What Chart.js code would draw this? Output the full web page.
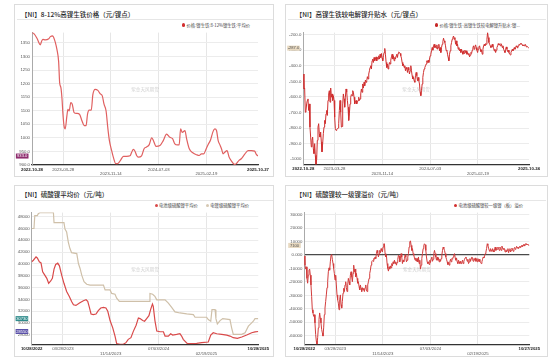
<!DOCTYPE html>
<html><head><meta charset="utf-8">
<script src="https://cdn.jsdelivr.net/npm/chart.js@4/dist/chart.umd.min.js"></script>
<style>
body{margin:0;width:550px;height:362px;position:relative;overflow:hidden;background:#fff;font-family:"Noto Sans CJK SC","Noto Sans",sans-serif}
.box{position:absolute;border:1px solid #dcdcdc;box-sizing:border-box}
.title{position:absolute;font-size:6.5px;color:#2a2a2a;line-height:1;white-space:nowrap;font-weight:500}
.sep{position:absolute;height:1px;background:#e6e6e6}
.legend{position:absolute;font-size:4.3px;color:#444;line-height:1;white-space:nowrap;display:flex;align-items:center}
.dot{display:inline-block;width:3.4px;height:3.4px;border-radius:50%;margin-right:1.2px}
.item{display:flex;align-items:center;margin-left:8px}
canvas{position:absolute}
</style></head>
<body>
<div class="box" style="left:14px;top:4px;width:260px;height:173px"></div>
<div class="box" style="left:285px;top:4px;width:263px;height:173px"></div>
<div class="box" style="left:14px;top:185px;width:260px;height:172px"></div>
<div class="box" style="left:285px;top:185px;width:263px;height:172px"></div>

<div class="title" style="left:21px;top:10.8px">【NI】8-12%高镍生铁价格（元/镍点）</div>
<div class="title" style="left:295.7px;top:10.8px">【NI】高镍生铁较电解镍升贴水（元/镍点）</div>
<div class="title" style="left:21px;top:191px">【NI】硫酸镍平均价（元/吨）</div>
<div class="title" style="left:295.7px;top:191px">【NI】硫酸镍较一级镍溢价（元/吨）</div>

<div class="sep" style="left:17px;top:19px;width:256px"></div>
<div class="sep" style="left:288px;top:19px;width:258px"></div>
<div class="sep" style="left:17px;top:200px;width:256px"></div>
<div class="sep" style="left:288px;top:200px;width:258px"></div>

<div class="legend" style="right:300px;top:22.8px"><span class="item"><span class="dot" style="background:#d32f2f"></span>价格:镍生铁:8-12%镍生铁:平均价</span></div>
<div class="legend" style="right:30px;top:22.8px"><span class="item"><span class="dot" style="background:#c62828"></span>价格:镍生铁-高镍生铁较电解镍升贴水:镍...</span></div>
<div class="legend" style="right:301px;top:203.1px"><span class="item"><span class="dot" style="background:#d94a4a"></span>电池级硫酸镍平均价</span><span class="item"><span class="dot" style="background:#d6c8b3"></span>电镀级硫酸镍平均价</span></div>
<div class="legend" style="right:27px;top:203.1px"><span class="item"><span class="dot" style="background:#d32f2f"></span>电池级硫酸镍较一级镍（板）溢价</span></div>

<canvas id="c1" width="260" height="149" style="left:14px;top:28px"></canvas>
<canvas id="c2" width="263" height="149" style="left:285px;top:28px"></canvas>
<canvas id="c3" width="260" height="149" style="left:14px;top:208px"></canvas>
<canvas id="c4" width="263" height="149" style="left:285px;top:208px"></canvas>

<script>
// ---------- DATA ----------
// Panel 1: 8-12% high nickel pig iron price (day offset from first tick, value)
const p1XTicks = ['2022-10-28','2023-03-28','2023-11-14','2024-07-03','2025-02-19','2025-10-27'];
const p1YTicks = [900,950,1000,1050,1100,1150,1200,1250,1300,1350];
const p1Days = [0,8,24,37,40,47,53,64,81,89,100,105,113,121,129,134,140,145,150,155,161,169,174,180,188,195,204,217,230,242,253,262,269,277,287,295,306,319,330,341,349,359,367,375,386,394,406,414,427,443,459,475,483,491,499,507,515,531,543,555,568,580,588,601,620,636,652,668,681,692,705,713,720,728,741,749,762,781,797,810,821,832,842,853,865,877,886,894,902,910,918,926,934,945,955,966,982,990,1003,1014,1030,1047,1063,1079,1087,1095];
const p1Vals = [1388,1385,1367,1345,1343,1357,1363,1361,1365,1373,1376,1370,1352,1325,1282,1203,1185,1148,1087,1045,1033,1081,1105,1099,1130,1124,1093,1090,1087,1063,1045,1045,1087,1102,1102,1160,1179,1175,1163,1154,1124,1099,1039,990,953,929,905,905,915,932,932,934,947,958,951,935,929,934,960,966,975,1000,990,969,972,990,1014,1002,997,978,974,974,1033,1020,1027,997,960,944,938,935,941,941,956,975,992,1023,1033,1027,990,975,960,941,947,953,929,915,902,905,917,923,939,953,953,951,939,933];

// Panel 2: premium of high nickel pig iron vs electrolytic nickel (evenly sampled)
const p2XTicks = ['2022-10-28','2023-03-28','2023-11-14','2024-07-03','2025-02-19','2025-10-24'];
const p2YTicks = [-1000,-900,-800,-700,-600,-500,-400,-300,-200];
const p2Vals = [-453,-549,-543,-698,-687,-645,-623,-613,-687,-645,-794,-858,-921,-879,-858,-932,-964,-900,-975,-1034,-1002,-879,-794,-772,-836,-858,-826,-890,-953,-900,-836,-794,-751,-772,-709,-687,-719,-623,-581,-560,-634,-543,-602,-581,-623,-592,-623,-730,-804,-815,-811,-804,-800,-772,-687,-623,-698,-794,-790,-645,-581,-613,-666,-602,-549,-570,-623,-666,-751,-709,-645,-602,-585,-592,-560,-570,-602,-645,-634,-623,-645,-634,-623,-602,-623,-613,-581,-549,-570,-517,-543,-506,-528,-492,-506,-496,-470,-485,-453,-432,-411,-400,-421,-368,-357,-379,-347,-368,-357,-343,-368,-347,-357,-336,-357,-326,-347,-321,-351,-368,-336,-315,-289,-326,-379,-411,-389,-421,-400,-379,-389,-364,-343,-326,-357,-336,-368,-347,-357,-336,-326,-347,-321,-311,-315,-321,-336,-351,-379,-400,-389,-411,-400,-432,-411,-421,-443,-411,-428,-453,-432,-400,-432,-464,-485,-475,-496,-506,-464,-443,-464,-496,-475,-496,-517,-570,-592,-560,-517,-475,-443,-421,-411,-400,-389,-368,-379,-364,-379,-357,-336,-326,-304,-283,-300,-272,-262,-283,-272,-287,-266,-294,-283,-262,-304,-283,-315,-283,-262,-245,-223,-240,-251,-272,-304,-300,-326,-347,-368,-326,-304,-272,-251,-230,-219,-209,-230,-219,-262,-240,-272,-262,-294,-283,-304,-294,-315,-294,-309,-326,-304,-321,-300,-315,-304,-326,-315,-330,-321,-343,-332,-315,-321,-300,-283,-272,-294,-279,-266,-283,-300,-315,-294,-279,-272,-294,-309,-300,-326,-294,-272,-262,-272,-258,-262,-230,-187,-219,-251,-262,-272,-283,-272,-262,-279,-287,-304,-294,-315,-300,-283,-272,-258,-266,-262,-272,-258,-266,-283,-272,-294,-304,-315,-294,-279,-294,-309,-300,-315,-326,-330,-315,-304,-294,-304,-294,-283,-294,-283,-272,-279,-287,-272,-262,-266,-258,-262,-258,-266,-272,-266,-272,-262,-266,-279,-275,-279,-283,-287];

// Panel 3: nickel sulphate average prices
const p3XTicks = ['10/28/2022','03/28/2023','11/14/2023','07/03/2024','02/19/2025','10/28/2025'];
const p3YTicks = [28000,30000,32000,34000,36000,38000,40000,42000,44000,46000,48000];
const p3BatteryDays = [0,8,21,27,37,45,53,61,73,82,92,100,108,116,126,134,145,156,169,182,193,202,214,231,250,263,271,279,287,298,311,322,334,347,359,368,379,392,403,411,427,443,456,467,480,492,505,516,524,537,546,556,567,575,584,588,596,605,621,637,645,661,672,682,701,717,725,733,753,774,798,822,854,866,878,895,919,943,959,975,995,1016,1040,1064,1080,1096];
const p3Battery = [40347,40627,41185,41018,40347,40180,38671,38224,37554,36716,37107,37554,39118,39900,40124,39677,38112,36716,35319,34481,33643,33084,32972,33363,33755,33922,33643,32637,31520,31408,31520,32078,32525,32637,32525,31967,30402,29173,27777,26492,26380,26380,26659,27218,27497,28615,29620,30849,30737,30402,30290,30737,31240,32246,33196,32804,30402,28615,28503,28503,27777,27777,28168,27944,28056,28168,27777,27218,26492,26492,26548,26659,26771,27944,28335,28168,28056,27944,27777,27497,27385,27609,27944,28335,28480,28550];
const p3PlatingDays = [0,11,15,27,32,40,105,108,156,161,169,177,185,193,218,226,234,242,253,266,282,347,355,379,387,403,411,424,569,572,585,596,605,645,661,677,693,717,750,782,790,846,854,866,872,887,891,898,911,924,959,967,975,1016,1032,1048,1059,1072,1080,1096];
const p3Plating = [46000,46000,48200,48200,48500,48700,48700,47000,47000,45900,45400,43700,42600,41900,41750,40070,39230,38100,37000,36550,36400,36400,35600,35600,35000,34870,34200,33640,33640,35000,34870,34500,33920,33920,33360,32640,31860,31690,31520,31400,30960,30960,30570,30290,32250,32250,30740,29840,30400,30740,30570,29170,28060,28060,28340,29450,29840,30290,30740,30730];

// Panel 4: battery-grade nickel sulphate premium over class-1 nickel (evenly sampled)
const p4XTicks = ['10/28/2022','03/28/2023','11/14/2023','07/03/2024','02/19/2025','10/27/2025'];
const p4YTicks = [-60000,-50000,-40000,-30000,-20000,-10000,0,10000,20000,30000];
const p4Vals = [-735,-7600,-10500,-8800,-17400,-21000,-15000,-11300,-10500,-15000,-22300,-30900,-40700,-43100,-45600,-44400,-50500,-59100,-64000,-66400,-61500,-54200,-48000,-43100,-46800,-50500,-55400,-57800,-60300,-54200,-44400,-39500,-34600,-29700,-24300,-19900,-12500,-9600,-11300,-5100,-200,200,-3200,-6400,-10000,-13700,-18600,-15000,-22300,-29700,-33300,-35800,-40700,-33300,-29700,-37000,-39500,-34600,-28400,-24800,-27200,-22300,-19900,-24300,-27200,-22300,-17400,-19900,-22300,-15000,-12500,-16200,-19900,-13700,-7600,-12500,-10500,-16200,-13700,-17400,-21000,-19900,-23500,-26000,-22300,-24800,-27200,-24300,-26000,-24800,-27200,-24300,-22300,-26000,-27200,-22300,-19900,-17400,-13700,-11300,-7600,-5100,-4200,-4700,-2700,-3200,-1500,-2700,1000,3400,1700,-1500,1000,3400,1700,4700,3400,2200,5900,8300,8300,1000,-1500,-200,-6400,-10000,-12000,-8800,-10500,-8100,-9600,-6400,-8100,-5100,-6400,-3900,-6400,-5100,-7600,-5600,-3200,-200,-700,-5100,-2700,1000,-1500,-6400,-3900,-5100,-2700,200,-1500,-5100,-3900,-1500,1000,5900,9600,10500,7100,3400,4700,1000,-200,-2200,-3900,-2200,-4700,-2700,-5100,-1500,-6400,-3900,-10500,-7600,-2700,1000,4700,7100,8300,7600,3400,-1500,-5100,-6400,-5100,-7100,-3900,-5600,-2700,-1500,-4700,-3200,1000,3400,1000,-1500,-3900,-1500,-3900,-2200,-5100,-3200,-4700,-2700,-200,3400,5900,4700,3400,1000,-1500,-3200,-5100,-7100,-5600,-7600,-5100,-3200,-5100,-2700,-3200,-1500,200,1000,-2200,-3900,-2200,-5100,-6400,-3900,-5100,-6400,-4700,-6400,-5100,-3900,-6400,-4700,-3200,-2200,-1500,-2700,-4700,-3200,-6400,-5100,-2700,-4700,-2700,-1500,-3200,-4700,-2700,-3900,-2200,-4700,-3200,-5100,-2700,-4700,-3200,-5100,-5600,-6400,-5100,-3200,-1500,-2200,-700,1000,2200,4700,8300,7100,5100,3400,2700,4700,3400,2700,4700,3400,2200,4700,5900,3400,4700,4200,5900,4700,3400,5900,4700,3400,6600,5100,4200,5100,3400,2200,3900,2200,3400,4700,1700,3400,4700,2200,3400,5100,3900,2700,4700,5600,4200,5100,6400,5100,5900,4700,5900,6600,5400,6400,7400,6100,7100,8100,6600,7600,8600,7600,8100,7600,7100,7100];
const p4YMax = 31500;

// ---------- RENDER ----------
const DAY = 86400000;
const TICKFONT = '"Liberation Sans", Arial, sans-serif';
const CJK = '"Noto Sans CJK SC", "Noto Sans", sans-serif';
function parseD(s){ let y,m,d; if (s.includes('/')) { [m,d,y] = s.split('/').map(Number); } else { [y,m,d] = s.split('-').map(Number); } return Date.UTC(y, m-1, d); }
const fmtY = v => v === 0 ? '0.000' : (Math.abs(v) >= 1000 ? String(Math.round(v)) : v.toFixed(1));

const watermark = { id: 'watermark', beforeDatasetsDraw(chart) {
  const {ctx, chartArea: a} = chart;
  ctx.save(); ctx.font = '4.6px ' + CJK; ctx.fillStyle = 'rgba(0,0,0,0.2)';
  ctx.textAlign = 'center'; ctx.textBaseline = 'middle';
  ctx.fillText('紫金天风期货', (a.left + a.right) / 2, a.top + (a.bottom - a.top) * 0.43);
  ctx.restore();
}};
const badges = { id: 'badges', afterDraw(chart, args, opts) {
  const {ctx, chartArea: a, scales: {y}} = chart;
  (opts.items || []).forEach(b => {
    const py = y.getPixelForValue(b.value);
    const w = 12.6, h = 5;
    const x1 = a.left - 3.5 - w;
    ctx.save();
    ctx.fillStyle = b.bg; ctx.fillRect(x1, py - h / 2, w, h);
    ctx.fillStyle = b.fg; ctx.font = '4.1px ' + TICKFONT;
    ctx.textAlign = 'center'; ctx.textBaseline = 'middle';
    ctx.fillText(b.text, x1 + w / 2, py + 0.2);
    ctx.restore();
  });
}};

function build(id, o) {
  const start = parseD(o.xTicks[0]);
  const tickDays = o.xTicks.map(t => (parseD(t) - start) / DAY);
  const last = tickDays.length - 1;
  const span = tickDays[last];
  const datasets = o.series.map(s => {
    const xs = s.x || s.y.map((_, i) => i * span / (s.y.length - 1));
    return {
      data: xs.map((d, i) => ({x: d, y: s.y[i]})),
      borderColor: s.color, borderWidth: s.width || 1.1, pointRadius: 0, fill: false,
      tension: s.smooth ? 0.4 : 0, cubicInterpolationMode: s.smooth ? 'monotone' : 'default'
    };
  });
  let all = []; o.series.forEach(s => all = all.concat(s.y));
  const yMin = Math.min(Math.min(...all), o.yTicks[0]);
  const yMax = o.yMax !== undefined ? o.yMax : Math.max(...all);
  const edge = i => i === 0 || i === last;
  new Chart(document.getElementById(id), {
    type: 'line',
    data: { datasets },
    plugins: [watermark, badges],
    options: {
      responsive: false, animation: false, devicePixelRatio: 1,
      layout: { padding: { top: 3, right: o.padRight, left: 0, bottom: 0 } },
      plugins: { legend: { display: false }, tooltip: { enabled: false }, badges: { items: o.badges } },
      scales: {
        x: {
          type: 'linear', min: 0, max: span,
          afterBuildTicks: s => { s.ticks = tickDays.map(v => ({ value: v })); },
          afterFit: s => { s.height = o.xHeight; },
          grid: { drawTicks: false, color: c => edge(c.index) ? 'rgba(0,0,0,0)' : '#e6e6e6', lineWidth: 1 },
          border: { color: '#333', width: 1.2 },
          ticks: {
            padding: 2, maxRotation: 0, autoSkip: false,
            font: c => ({ family: TICKFONT, size: 4.3, lineHeight: 1.12, weight: edge(c.index) ? 'bold' : 'normal' }),
            color: c => edge(c.index) ? '#222' : '#555',
            callback: (v, i) => (i === 2 || i === 4) ? ['', o.xTicks[i]] : o.xTicks[i]
          }
        },
        y: {
          min: yMin, max: yMax,
          afterBuildTicks: s => { s.ticks = o.yTicks.map(v => ({ value: v })); },
          afterFit: s => { s.width = o.yWidth; },
          grid: {
            drawTicks: false,
            color: c => (o.zero && c.tick && c.tick.value === 0) ? '#4a4a4a' : '#ececec',
            lineWidth: c => (o.zero && c.tick && c.tick.value === 0) ? 1.3 : 1
          },
          border: { color: '#aaa', width: 1 },
          ticks: { padding: 2, autoSkip: false, font: { family: TICKFONT, size: 4.3 }, color: '#555', callback: v => fmtY(v) }
        }
      }
    }
  });
}

build('c1', {
  xTicks: p1XTicks, yTicks: p1YTicks, yWidth: 18, xHeight: 12, padRight: 16,
  series: [{ x: p1Days, y: p1Vals, color: '#e06060', smooth: true, width: 1.2 }],
  badges: [{ value: p1Vals[p1Vals.length - 1], text: p1Vals[p1Vals.length - 1].toFixed(1), bg: '#8e2d6e', fg: '#fff' }]
});
build('c2', {
  xTicks: p2XTicks, yTicks: p2YTicks, yWidth: 18.3, xHeight: 12.5, padRight: 19,
  series: [{ y: p2Vals, color: '#cf2f2f', width: 1 }],
  badges: [{ value: p2Vals[p2Vals.length - 1], text: p2Vals[p2Vals.length - 1].toFixed(1), bg: '#e8d9c0', fg: '#555' }]
});
build('c3', {
  xTicks: p3XTicks, yTicks: p3YTicks, yWidth: 17.7, xHeight: 12.7, padRight: 15.7,
  series: [
    { x: p3BatteryDays, y: p3Battery, color: '#d94a4a', width: 1.2 },
    { x: p3PlatingDays, y: p3Plating, color: '#cfc0a9', width: 1.2 }
  ],
  badges: [
    { value: p3Plating[p3Plating.length - 1], text: String(p3Plating[p3Plating.length - 1]), bg: '#2e8b8b', fg: '#fff' },
    { value: p3Battery[p3Battery.length - 1], text: String(p3Battery[p3Battery.length - 1]), bg: '#5a50a8', fg: '#fff' }
  ]
});
build('c4', {
  xTicks: p4XTicks, yTicks: p4YTicks, yWidth: 19.3, xHeight: 12.7, padRight: 18.7, yMax: p4YMax, zero: true,
  series: [{ y: p4Vals, color: '#d23c3c', width: 1 }],
  badges: [{ value: p4Vals[p4Vals.length - 1], text: String(p4Vals[p4Vals.length - 1]), bg: '#e8d9c0', fg: '#555' }]
});
</script>
</body></html>
